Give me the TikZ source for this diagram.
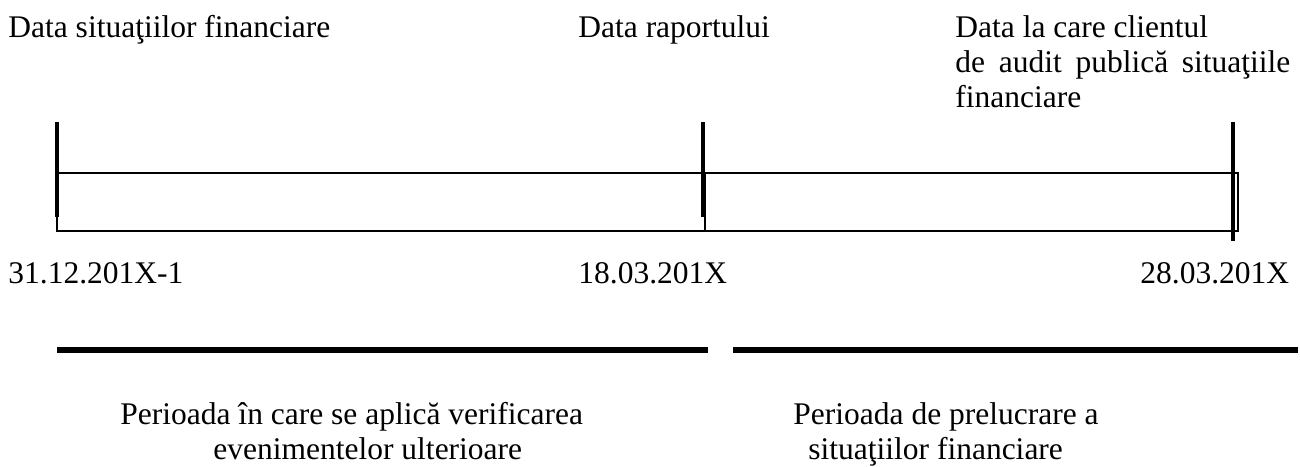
\documentclass[tikz,border=0pt]{standalone}
\usepackage{fontspec}
\setmainfont{Liberation Serif}

\begin{document}
\begin{tikzpicture}[x=0.5pt,y=-0.5pt,
        label node/.style={anchor=base west,inner sep=0pt,align=left,font=\fontsize{15.75}{17.5}\selectfont},
        date bar/.style={line width=2pt},
        box line/.style={line width=1pt},
        period line/.style={line width=3pt}]
        \useasboundingbox (0,0) rectangle (1300,466);
        % etichete sus
        \node [label node] (t1) at (8,37) {Data situaţiilor financiare};
        \node [label node] (t2) at (578,37) {Data raportului};
        \node [label node] (t3) at (955,107) {Data la care clientul\\
            \makebox[167.5pt][s]{de audit publică situaţiile}\\financiare};
        % axa
        \coordinate (a1) at (57,173);
        \coordinate (a2) at (1238,231);
        \coordinate (m1) at (705,173);
        \coordinate (m2) at (705,231);
        \draw [box line] (a1) rectangle (a2);
        \draw [box line] (m1) -- (m2);
        \coordinate (b1) at (57,122);
        \coordinate (c1) at (57,217);
        \coordinate (b2) at (703,122);
        \coordinate (c2) at (703,217);
        \coordinate (b3) at (1233,122);
        \coordinate (c3) at (1233,241);
        \draw [date bar] (b1) -- (c1);
        \draw [date bar] (b2) -- (c2);
        \draw [date bar] (b3) -- (c3);
        % date
        \node [label node] (d1) at (8,283) {31.12.201X-1};
        \node [label node] (d2) at (578,283) {18.03.201X};
        \node [label node] (d3) at (1140,283) {28.03.201X};
        % perioade
        \coordinate (p1) at (57,350);
        \coordinate (q1) at (708,350);
        \coordinate (p2) at (733,350);
        \coordinate (q2) at (1298,350);
        \draw [period line] (p1) -- (q1);
        \draw [period line] (p2) -- (q2);
        \node [label node] (e1) at (120,459) {Perioada în care se aplică verificarea\\
            \hspace*{46.5pt}evenimentelor ulterioare};
        \node [label node] (e2) at (793,459) {Perioada de prelucrare a\\
            \hspace*{7.5pt}situaţiilor financiare};
\end{tikzpicture}
\end{document}
